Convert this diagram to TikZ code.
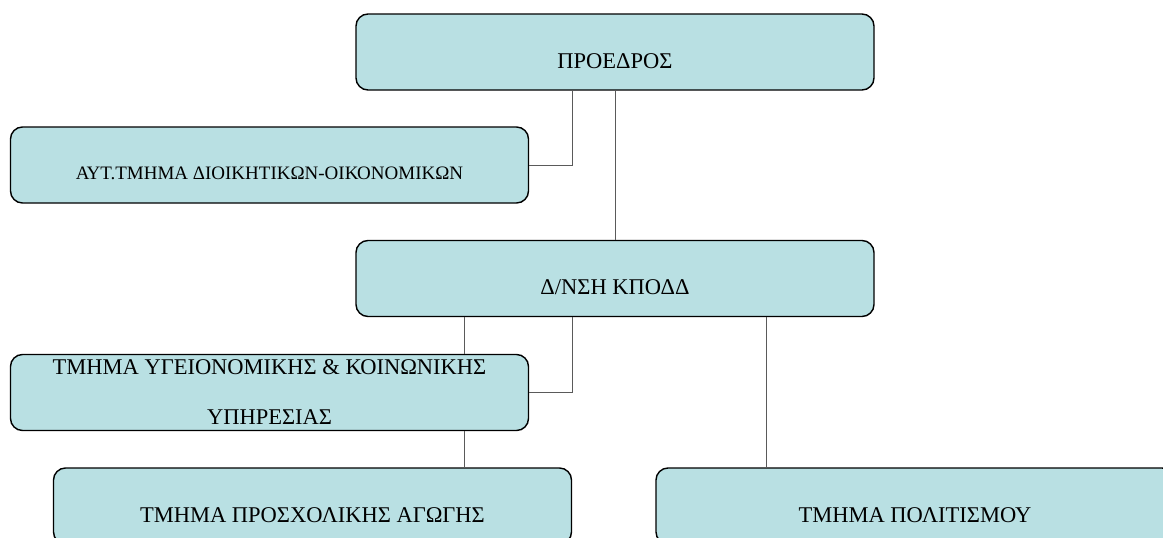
\documentclass[tikz,border=0pt]{standalone}
\usepackage{fontspec}
\setmainfont{Liberation Serif}
\usepackage{tikz}

\definecolor{boxfill}{RGB}{185,224,227}
\definecolor{linegray}{RGB}{90,90,90}

\tikzset{
  orgbox/.style={draw=black, line width=1.4pt, fill=boxfill, rounded corners=12pt,
    minimum width=518pt, minimum height=76pt, inner sep=0pt,
    font=\fontsize{22.5}{27}\selectfont},
  lowtext/.style={text height=32pt, text depth=0pt},
  link/.style={linegray, line width=0.9pt}
}

\begin{document}
\begin{tikzpicture}[x=1pt,y=-1pt]
\useasboundingbox (0,0) rectangle (1163,538);

% boxes
\node[orgbox,lowtext] (pres) at (615,52) {ΠΡΟΕΔΡΟΣ};
\node[orgbox,font=\fontsize{19}{23}\selectfont,text height=28.5pt,text depth=0pt] (aut) at (269.5,165) {ΑΥΤ.ΤΜΗΜΑ ΔΙΟΙΚΗΤΙΚΩΝ-ΟΙΚΟΝΟΜΙΚΩΝ};
\node[orgbox,lowtext] (dnsi) at (615,278.5) {Δ/ΝΣΗ ΚΠΟΔΔ};
\node[orgbox,align=center] (ygeia) at (269.5,392.5) {ΤΜΗΜΑ ΥΓΕΙΟΝΟΜΙΚΗΣ \& ΚΟΙΝΩΝΙΚΗΣ\\[23pt]ΥΠΗΡΕΣΙΑΣ};
\node[orgbox,lowtext] (prosx) at (312.5,506) {ΤΜΗΜΑ ΠΡΟΣΧΟΛΙΚΗΣ ΑΓΩΓΗΣ};
\node[orgbox,lowtext] (polit) at (915,506) {ΤΜΗΜΑ ΠΟΛΙΤΙΣΜΟΥ};

% connectors
\draw[link] (aut.east) -| ([xshift=-43pt]pres.south);
\draw[link] (pres.south) -- (dnsi.north);
\draw[link] (ygeia.east) -| ([xshift=-43pt]dnsi.south);
\coordinate (d1) at ([xshift=-151pt]dnsi.south);
\coordinate (d2) at ([xshift=151pt]dnsi.south);
\draw[link] (d1) -- (d1 |- ygeia.north);
\draw[link] (d1 |- ygeia.south) -- (d1 |- prosx.north);
\draw[link] (d2) -- (d2 |- polit.north);
\end{tikzpicture}
\end{document}
